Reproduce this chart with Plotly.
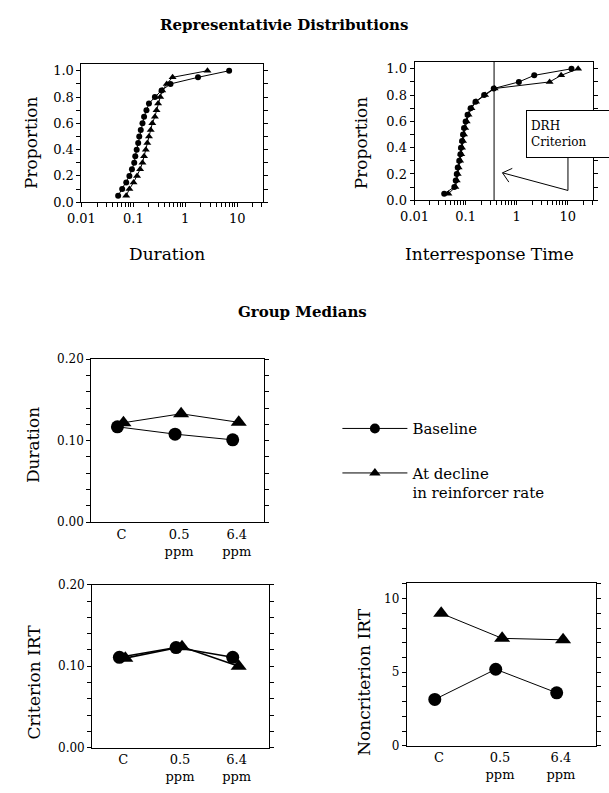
import plotly.graph_objects as go

# ---------------- data ----------------
proportion = [0.05, 0.10, 0.15, 0.20, 0.25, 0.30, 0.35, 0.40, 0.45, 0.50,
              0.55, 0.60, 0.65, 0.70, 0.75, 0.80, 0.85, 0.90, 0.95, 1.00]

dur_dist_baseline = [0.051, 0.061, 0.073, 0.084, 0.094, 0.104, 0.109, 0.116, 0.124, 0.130,
                     0.139, 0.150, 0.161, 0.179, 0.200, 0.26, 0.35, 0.52, 1.76, 7.0]
dur_dist_decline = [0.073, 0.084, 0.101, 0.118, 0.135, 0.150, 0.161, 0.174, 0.186, 0.200,
                    0.216, 0.232, 0.26, 0.28, 0.30, 0.33, 0.36, 0.44, 0.57, 2.68]

irt_dist_baseline = [0.038, 0.060, 0.064, 0.067, 0.070, 0.075, 0.079, 0.081, 0.085, 0.089,
                     0.093, 0.100, 0.109, 0.125, 0.156, 0.23, 0.355, 1.1, 2.2, 11.8]
irt_dist_decline = [0.046, 0.063, 0.067, 0.070, 0.073, 0.078, 0.082, 0.085, 0.089, 0.093,
                    0.098, 0.105, 0.114, 0.13, 0.16, 0.24, 0.37, 4.4, 7.4, 15.9]
drh_criterion = 0.36

groups = ["C", "0.5<br>ppm", "6.4<br>ppm"]
duration_baseline = [0.117, 0.108, 0.101]
duration_decline = [0.122, 0.133, 0.1225]
criterion_baseline = [0.111, 0.123, 0.111]
criterion_decline = [0.110, 0.124, 0.100]
noncriterion_baseline = [3.15, 5.2, 3.6]
noncriterion_decline = [9.0, 7.3, 7.2]

decade_ticks = [0.01, 0.1, 1, 10]
decade_labels = ["0.01", "0.1", "1", "10"]

# ---------------- layout helpers ----------------
W, H = 609, 793
FONT = "DejaVu Serif"


def px_x(p):
    return p / W


def px_y(p):
    return 1 - p / H


minor_log = [m * 10 ** e for e in (-2, -1, 0, 1) for m in range(2, 10) if m * 10 ** e < 31.7]

fig = go.Figure()


def add_pair(xb, yb, xd, yd, ax, size_c, size_t, lw=1):
    fig.add_trace(go.Scatter(x=xb, y=yb, mode="lines+markers", xaxis="x" + ax, yaxis="y" + ax,
                             line=dict(color="black", width=lw),
                             marker=dict(symbol="circle", size=size_c, color="black"),
                             showlegend=False, cliponaxis=False))
    fig.add_trace(go.Scatter(x=xd, y=yd, mode="lines+markers", xaxis="x" + ax, yaxis="y" + ax,
                             line=dict(color="black", width=lw),
                             marker=dict(symbol="triangle-up", size=size_t, color="black"),
                             showlegend=False, cliponaxis=False))


# top distributions
add_pair(dur_dist_baseline, proportion, dur_dist_decline, proportion, "", 6, 7)
TOP_R = 1.052
fig.add_trace(go.Scatter(x=[drh_criterion, drh_criterion], y=[0, TOP_R], mode="lines",
                         xaxis="x2", yaxis="y2", line=dict(color="black", width=1),
                         showlegend=False, hoverinfo="skip"))
add_pair(irt_dist_baseline, proportion, irt_dist_decline, proportion, "2", 6, 7)

# group medians
base_shift, decl_shift = -0.07, 0.035
xb = [i + base_shift for i in range(len(groups))]
xd = [i + decl_shift for i in range(len(groups))]
add_pair(xb, duration_baseline, xd, duration_decline, "3", 13, 14)
add_pair(xb, criterion_baseline, xd, criterion_decline, "4", 13, 14, lw=1.6)
add_pair(xb, noncriterion_baseline, xd, noncriterion_decline, "5", 13, 14)

# legend-only traces
fig.add_trace(go.Scatter(x=[None], y=[None], mode="lines+markers", name="Baseline",
                         line=dict(color="black", width=1), legendgroup="a",
                         marker=dict(symbol="circle", size=10, color="black")))
fig.add_trace(go.Scatter(x=[None], y=[None], mode="lines+markers",
                         name="At decline<br>in reinforcer rate", legendgroup="b",
                         line=dict(color="black", width=1),
                         marker=dict(symbol="triangle-up", size=10, color="black")))

common = dict(showline=True, linecolor="black", linewidth=1, showgrid=False, zeroline=False,
              ticks="outside", tickcolor="black", ticklen=4, tickwidth=1,
              tickfont=dict(family=FONT, size=13, color="black"))


def log_x(left, right, anchor):
    return dict(common, type="log", range=[-2, 1.5], mirror=True,
                domain=[px_x(left), px_x(right)], anchor=anchor,
                tickvals=decade_ticks, ticktext=decade_labels,
                minor=dict(tickvals=minor_log, ticks="outside", ticklen=4, tickcolor="black"))


def prop_y(top, bottom, anchor):
    return dict(common, range=[0, TOP_R], mirror="ticks", domain=[px_y(bottom), px_y(top)],
                anchor=anchor, tick0=0, dtick=0.2, tickformat=".1f",
                minor=dict(dtick=0.1, ticks="outside", ticklen=4, tickcolor="black"))


def cat_x(left, right, rng, anchor):
    return dict(common, range=rng, mirror=True, ticks="", domain=[px_x(left), px_x(right)],
                anchor=anchor, tickvals=list(range(len(groups))), ticktext=groups,
                tickfont=dict(family=FONT, size=13, color="black"))


def med_y(top, bottom, rng, dtick, minor, fmt, anchor):
    return dict(common, range=rng, mirror="ticks", domain=[px_y(bottom), px_y(top)],
                anchor=anchor, tick0=0, dtick=dtick, tickformat=fmt,
                tickfont=dict(family=FONT, size=12, color="black"),
                minor=dict(dtick=minor, ticks="outside", ticklen=4, tickcolor="black"))


fig.update_layout(
    width=W, height=H, margin=dict(l=0, r=0, t=0, b=0),
    paper_bgcolor="white", plot_bgcolor="white",
    font=dict(family=FONT, color="black"),
    xaxis=log_x(69, 255, "y"),
    yaxis=prop_y(58, 199, "x"),
    xaxis2=log_x(410, 593, "y2"),
    yaxis2=prop_y(56, 197, "x2"),
    xaxis3=cat_x(79, 256, [-0.525, 2.475], "y3"),
    yaxis3=med_y(359, 525, [0, 0.2], 0.1, 0.02, ".2f", "x3"),
    xaxis4=cat_x(80, 261, [-0.55, 2.57], "y4"),
    yaxis4=med_y(589, 755, [0, 0.2], 0.1, 0.02, ".2f", "x4"),
    xaxis5=cat_x(402, 596, [-0.53, 2.58], "y5"),
    yaxis5=med_y(587, 753, [0, 11.07], 5, 1, "d", "x5"),
    showlegend=True,
    legend=dict(x=px_x(331), y=px_y(413), xanchor="left", yanchor="top",
                font=dict(family=FONT, size=15, color="black"), valign="top",
                itemwidth=65, tracegroupgap=22, bgcolor="rgba(0,0,0,0)"),
)

ann = []


def text(x, y, s, size, bold=False, angle=0):
    ann.append(dict(x=px_x(x), y=px_y(y), xref="paper", yref="paper", text=("<b>%s</b>" % s) if bold else s,
                    showarrow=False, textangle=angle, xanchor="center", yanchor="middle",
                    font=dict(family=FONT, size=size, color="black")))


text(276, 18, "Representativie Distributions", 15, bold=True)
text(295, 311, "Group Medians", 15, bold=True)
text(157, 252, "Duration", 17)
text(487, 252, "Interresponse Time", 17)
text(18, 138, "Proportion", 17, angle=-90)
text(356, 138, "Proportion", 17, angle=-90)
text(19, 447, "Duration", 17, angle=-90)
text(20, 688, "Criterion IRT", 17, angle=-90)
text(358, 688, "Noncriterion IRT", 17, angle=-90)

ann.append(dict(x=px_x(524), y=px_y(129.5), xref="paper", yref="paper", text="DRH<br>Criterion",
                showarrow=False, xanchor="left", yanchor="middle", align="left", valign="middle",
                width=110, height=38, borderpad=4, bordercolor="black", borderwidth=1,
                bgcolor="white", font=dict(family=FONT, size=12, color="black")))
fig.update_layout(annotations=ann)

# bent pointer arrow from the DRH box to the criterion line
pts = [(567, 153), (567, 187), (500, 169)]
path = "M " + " L ".join("%f,%f" % (px_x(a), px_y(b)) for a, b in pts)
head = "M %f,%f L %f,%f L %f,%f" % (px_x(510), px_y(164.5), px_x(500), px_y(169),
                                    px_x(506.5), px_y(178.5))
fig.add_shape(type="path", path=path, xref="paper", yref="paper", line=dict(color="black", width=1))
fig.add_shape(type="path", path=head, xref="paper", yref="paper", line=dict(color="black", width=1))

fig.write_html("out.html")
